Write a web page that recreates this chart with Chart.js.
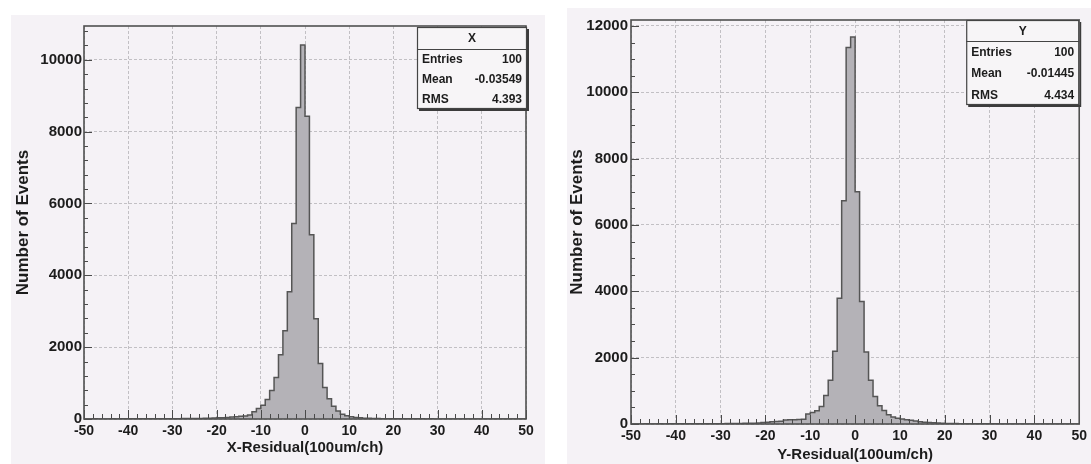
<!DOCTYPE html>
<html>
<head>
<meta charset="utf-8">
<title>X / Y residuals</title>
<script src="https://cdn.jsdelivr.net/npm/chart.js@4/dist/chart.umd.min.js"></script>
<style>
  body { margin: 0; background: #ffffff; width: 1091px; height: 464px; position: relative; overflow: hidden; }
  .panel { position: absolute; background: #f5f2f6; }
  canvas { display: block; }
</style>
</head>
<body>
<div class="panel" style="left:11px;top:15px;width:534px;height:449px">
  <canvas id="xResidual" width="534" height="449"></canvas>
</div>
<div class="panel" style="left:567px;top:8px;width:524px;height:456px">
  <canvas id="yResidual" width="524" height="456"></canvas>
</div>
<script>
// histogram binning (100 bins of 1 unit between -50 and 50)
const xMin = -50;
const xMax = 50;
const binWidth = 1;

// counts per bin, bins -50..49
const xCounts = [
  2, 3, 2, 4, 3, 2, 3, 4, 3, 5,
  4, 5, 4, 6, 5, 6, 7, 6, 8, 7,
  9, 8, 10, 11, 12, 13, 15, 17, 20, 23,
  27, 32, 38, 45, 55, 65, 80, 85, 110, 200,
  290, 380, 545, 790, 1155, 1790, 2455, 3540, 5445, 8670,
  10410, 8430, 5130, 2790, 1545, 880, 565, 355, 225, 135,
  90, 65, 45, 32, 24, 18, 14, 12, 10, 9,
  8, 7, 7, 6, 5, 5, 4, 4, 3, 4,
  3, 3, 2, 3, 2, 2, 3, 2, 2, 1,
  2, 1, 2, 1, 1, 2, 1, 1, 1, 1
];
const yCounts = [
  2, 3, 2, 3, 4, 3, 2, 4, 3, 4,
  5, 4, 5, 6, 5, 6, 7, 8, 7, 9,
  10, 11, 12, 14, 15, 17, 19, 22, 25, 30,
  45, 55, 65, 75, 85, 120, 130, 130, 135, 140,
  300, 350, 400, 530, 860, 1320, 2190, 3790, 6730, 11350,
  11670, 7000, 3690, 2170, 1320, 830, 550, 410, 280, 210,
  170, 150, 130, 110, 90, 70, 55, 45, 35, 28,
  22, 18, 15, 12, 10, 9, 8, 7, 6, 5,
  5, 4, 4, 3, 3, 3, 2, 2, 2, 2,
  2, 1, 2, 1, 1, 1, 1, 1, 1, 1
];

// tick labels
const xTicks = [-50, -40, -30, -20, -10, 0, 10, 20, 30, 40, 50];
const yTicksX = [0, 2000, 4000, 6000, 8000, 10000];
const yTicksY = [0, 2000, 4000, 6000, 8000, 10000, 12000];

// stats box contents
const xStats = ['X', ['Entries', '100'], ['Mean', '-0.03549'], ['RMS', '4.393']];
const yStats = ['Y', ['Entries', '100'], ['Mean', '-0.01445'], ['RMS', '4.434']];

const FONT = "'Liberation Sans', Arial, sans-serif";
const INK = '#1c1c1c';

// turn bin counts into step points (last edge repeats the last count)
function stepPoints(counts) {
  const pts = counts.map((c, i) => ({ x: xMin + i * binWidth, y: c }));
  pts.push({ x: xMax, y: counts[counts.length - 1] });
  return pts;
}

// frame + inward ROOT style ticks
const frameTicks = {
  id: 'frameTicks',
  afterDatasetsDraw(chart, args, opts) {
    const { ctx, chartArea: a, scales: { x, y } } = chart;
    ctx.save();
    ctx.strokeStyle = '#4a4a4a';
    ctx.lineWidth = 1;
    ctx.beginPath();
    const nx = Math.round((x.max - x.min) / opts.xMinor);
    for (let i = 0; i <= nx; i++) {
      const v = x.min + i * opts.xMinor;
      const px = Math.round(x.getPixelForValue(v)) + 0.5;
      const len = (Math.round(v) % opts.xMajor === 0) ? 9 : 5;
      ctx.moveTo(px, a.bottom);
      ctx.lineTo(px, a.bottom - len);
    }
    const ny = Math.floor(y.max / opts.yMinor);
    for (let i = 0; i <= ny; i++) {
      const v = i * opts.yMinor;
      const py = Math.round(y.getPixelForValue(v)) + 0.5;
      const len = (v % opts.yMajor === 0) ? 8 : 4;
      ctx.moveTo(a.left, py);
      ctx.lineTo(a.left + len, py);
    }
    ctx.stroke();
    ctx.lineWidth = 1.6;
    ctx.strokeStyle = '#505050';
    ctx.strokeRect(a.left, a.top, a.right - a.left, a.bottom - a.top);
    ctx.restore();
  }
};

// ROOT stats box in the top right corner
const statsBox = {
  id: 'statsBox',
  afterDraw(chart, args, opts) {
    const { ctx, chartArea: a } = chart;
    const [title, ...rows] = opts.lines;
    const w = opts.width, h = opts.height;
    const right = a.right + opts.dx, top = a.top + opts.dy;
    const left = right - w;
    ctx.save();
    ctx.fillStyle = '#3c3c3c';
    ctx.fillRect(left + 2, top + 2, w, h);
    ctx.fillStyle = '#f7f5f7';
    ctx.fillRect(left, top, w, h);
    ctx.strokeStyle = '#444';
    ctx.lineWidth = 1.2;
    ctx.strokeRect(left + 0.5, top + 0.5, w - 1, h - 1);
    ctx.beginPath();
    ctx.moveTo(left, top + opts.titleH + 0.5);
    ctx.lineTo(right, top + opts.titleH + 0.5);
    ctx.stroke();
    ctx.fillStyle = INK;
    ctx.font = 'bold 12px ' + FONT;
    ctx.textBaseline = 'middle';
    ctx.textAlign = 'center';
    ctx.fillText(title, left + w / 2, top + opts.titleH / 2 + 1);
    const rowH = (h - opts.titleH) / rows.length;
    rows.forEach((r, i) => {
      const cy = top + opts.titleH + rowH * (i + 0.5) + 1;
      ctx.textAlign = 'left';
      ctx.fillText(r[0], left + 5, cy);
      ctx.textAlign = 'right';
      ctx.fillText(r[1], right - 5, cy);
    });
    ctx.restore();
  }
};

function makeHist(id, counts, cfg) {
  return new Chart(document.getElementById(id), {
    type: 'line',
    data: {
      datasets: [{
        data: stepPoints(counts),
        stepped: 'after',
        fill: 'origin',
        backgroundColor: '#b4b2b7',
        borderColor: '#555555',
        borderWidth: 1.5,
        pointRadius: 0
      }]
    },
    options: {
      responsive: false,
      animation: false,
      layout: { padding: { top: cfg.padTop, right: cfg.padRight, left: 0, bottom: 0 } },
      plugins: {
        legend: { display: false },
        tooltip: { enabled: false },
        frameTicks: { xMajor: 10, xMinor: 2, yMajor: 2000, yMinor: cfg.yMinor },
        statsBox: { lines: cfg.stats, width: cfg.boxW, height: cfg.boxH, titleH: cfg.boxTitleH, dx: cfg.boxDx, dy: cfg.boxDy }
      },
      scales: {
        x: {
          type: 'linear',
          min: xMin,
          max: xMax,
          afterFit: (s) => { s.height = cfg.xAxisH; },
          afterBuildTicks: (s) => { s.ticks = xTicks.map(v => ({ value: v })); },
          border: { display: false, dash: [3, 2] },
          grid: { color: '#c2c0c4', lineWidth: 1, drawTicks: false },
          ticks: { padding: cfg.xTickPad, color: INK, callback: v => String(v), font: { family: FONT, size: 14, weight: 'bold' } },
          title: { display: true, text: cfg.xTitle, color: INK, padding: { top: 0, bottom: cfg.xTitlePad }, font: { family: FONT, size: 15, weight: 'bold' } }
        },
        y: {
          min: 0,
          max: cfg.yMax,
          afterFit: (s) => { s.width = cfg.yAxisW; },
          afterBuildTicks: (s) => { s.ticks = cfg.yTicks.map(v => ({ value: v })); },
          border: { display: false, dash: [3, 2] },
          grid: { color: '#c2c0c4', lineWidth: 1, drawTicks: false },
          ticks: { padding: cfg.yTickPad, color: INK, callback: v => String(v), font: { family: FONT, size: 15, weight: 'bold' } },
          title: { display: true, text: 'Number of Events', color: INK, padding: { top: cfg.yTitlePad, bottom: 0 }, font: { family: FONT, size: 17, weight: 'bold' } }
        }
      }
    },
    plugins: [frameTicks, statsBox]
  });
}

makeHist('xResidual', xCounts, {
  xTitle: 'X-Residual(100um/ch)', stats: xStats, yMax: 10940, yMinor: 400, yTicks: yTicksX,
  padTop: 3, padRight: 19, xAxisH: 45, yAxisW: 73,
  xTickPad: 4, xTitlePad: 7, yTickPad: 2, yTitlePad: 2,
  boxW: 110, boxH: 82, boxTitleH: 22, boxDx: 1, boxDy: 1
});

makeHist('yResidual', yCounts, {
  xTitle: 'Y-Residual(100um/ch)', stats: yStats, yMax: 12180, yMinor: 500, yTicks: yTicksY,
  padTop: 7, padRight: 8, xAxisH: 40, yAxisW: 64,
  xTickPad: 4, xTitlePad: 0, yTickPad: 3, yTitlePad: 0,
  boxW: 113, boxH: 85, boxTitleH: 21, boxDx: 0, boxDy: 0
});
</script>
</body>
</html>
